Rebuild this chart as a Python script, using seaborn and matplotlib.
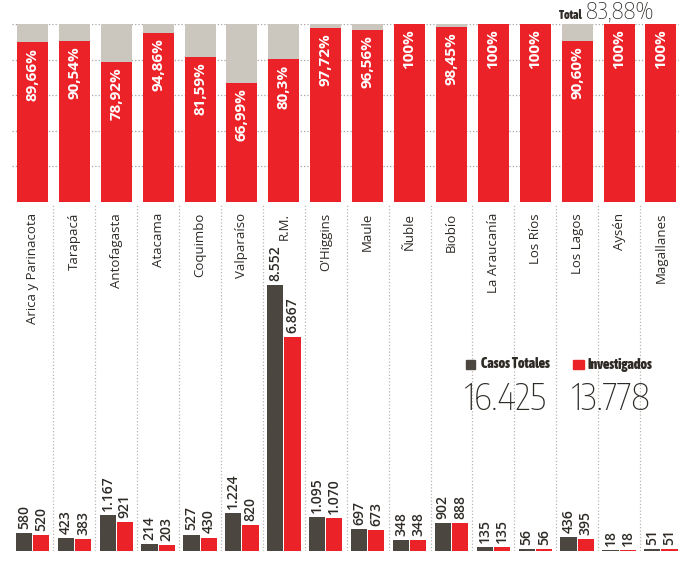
import pandas as pd
import numpy as np
import matplotlib.pyplot as plt
import seaborn as sns
from matplotlib import font_manager

# datos por región
regiones = ["Arica y Parinacota", "Tarapacá", "Antofagasta", "Atacama", "Coquimbo",
            "Valparaíso", "R.M.", "O'Higgins", "Maule", "Ñuble", "Biobío",
            "La Araucanía", "Los Ríos", "Los Lagos", "Aysén", "Magallanes"]
casos_totales = [580, 423, 1167, 214, 527, 1224, 8552, 1095, 697, 348, 902, 135, 56, 436, 18, 51]
investigados = [520, 383, 921, 203, 430, 820, 6867, 1070, 673, 348, 888, 135, 56, 395, 18, 51]
porcentaje = [89.66, 90.54, 78.92, 94.86, 81.59, 66.99, 80.3, 97.72, 96.56, 100,
              98.45, 100, 100, 90.60, 100, 100]
porcentaje_txt = ["89,66%", "90,54%", "78,92%", "94,86%", "81,59%", "66,99%", "80,3%",
                  "97,72%", "96,56%", "100%", "98,45%", "100%", "100%", "90,60%", "100%", "100%"]
total_pct_txt = "83,88%"

ROJO = "#ec2229"
GRIS = "#cbc7bf"
OSCURO = "#4b463f"
TEXTO = "#2e2a26"
PUNTOS = "#b9b6b0"

def miles(v):
    return f"{v:,}".replace(",", ".")

sns.set_style("white")
plt.rcParams["font.family"] = ["Open Sans", "DejaVu Sans"]

# buscar alguna fuente angosta instalada para las cifras grandes
angostas = [f for f in font_manager.fontManager.ttflist
            if f.stretch in ("condensed", "semi-condensed", "extra-condensed", "ultra-condensed")
            or "Narrow" in f.name or "Condensed" in f.name]
if angostas:
    fina = min(angostas, key=lambda f: f.weight if isinstance(f.weight, int) else 400)
    gruesa = max(angostas, key=lambda f: f.weight if isinstance(f.weight, int) else 400)
    fp_num = font_manager.FontProperties(fname=fina.fname, size=26)
    fp_leg = font_manager.FontProperties(fname=gruesa.fname, size=10)
    fp_tot = font_manager.FontProperties(fname=fina.fname, size=16.5)
    fp_tot_lbl = font_manager.FontProperties(fname=gruesa.fname, size=8.5)
else:
    fp_num = font_manager.FontProperties(family="Roboto", weight="light", size=18)
    fp_leg = font_manager.FontProperties(family="Roboto", weight="bold", size=8.5)
    fp_tot = font_manager.FontProperties(family="Roboto", weight="light", size=14)
    fp_tot_lbl = font_manager.FontProperties(family="Roboto", weight="bold", size=7.5)

W, H = 679, 563
fig = plt.figure(figsize=(W / 100, H / 100), dpi=100)

x0 = 11.5
paso = 41.9
ancho_ax = paso * 16

# panel superior: porcentaje investigado
ax1 = fig.add_axes([x0 / W, 1 - 202 / H, ancho_ax / W, 178 / H])
df_pct = pd.DataFrame({"Region": regiones, "Pct": porcentaje, "Fondo": [100] * len(regiones)})
sns.barplot(data=df_pct, x="Region", y="Fondo", color=GRIS, width=0.74, ax=ax1,
            saturation=1, linewidth=0)
sns.barplot(data=df_pct, x="Region", y="Pct", color=ROJO, width=0.74, ax=ax1,
            saturation=1, linewidth=0)
ax1.set_xlim(-0.5, 15.5)
ax1.set_ylim(0, 100)
for yy in [0, 20, 40, 60, 80, 100]:
    ax1.axhline(yy, color="#a9a59e", ls=":", lw=0.9, zorder=0)
for i, (p, t) in enumerate(zip(porcentaje, porcentaje_txt)):
    ax1.text(i, p - 3, t, rotation=90, ha="center", va="top", color="white",
             fontsize=11, fontweight="bold")
ax1.axis("off")

# panel inferior: casos totales vs investigados
ax2 = fig.add_axes([x0 / W, 1 - 551 / H, ancho_ax / W, 346 / H])
df_casos = pd.DataFrame({
    "Region": regiones * 2,
    "Serie": ["Casos Totales"] * len(regiones) + ["Investigados"] * len(regiones),
    "Casos": casos_totales + investigados,
})
sns.barplot(data=df_casos, x="Region", y="Casos", hue="Serie", palette=[OSCURO, ROJO],
            width=0.82, gap=0.06, saturation=1, linewidth=0, legend=False, ax=ax2)
ax2.set_xlim(-0.5, 15.5)
ax2.set_ylim(0, 11125)
for cont, vals in zip(ax2.containers, [casos_totales, investigados]):
    ax2.bar_label(cont, labels=[miles(v) for v in vals], rotation=90, padding=3,
                  fontsize=10, fontweight="semibold", color=TEXTO)
for i in range(len(regiones) - 1):
    ax2.axvline(i + 0.5, color=PUNTOS, ls=":", lw=0.9, zorder=0)
for i, r in enumerate(regiones):
    ax2.text(i, 0.977, r, rotation=90, ha="center", va="top", fontsize=9.5,
             color=TEXTO, transform=ax2.get_xaxis_transform())
ax2.axis("off")

# leyenda con totales
fig.patches.append(plt.Rectangle((466 / W, 1 - 369 / H), 9 / W, 9 / H, color=OSCURO,
                                 transform=fig.transFigure))
fig.patches.append(plt.Rectangle((573 / W, 1 - 369 / H), 11 / W, 9 / H, color=ROJO,
                                 transform=fig.transFigure))
fig.text(481 / W, 1 - 364.5 / H, "Casos Totales", fontproperties=fp_leg,
         color=TEXTO, va="center")
fig.text(588 / W, 1 - 364.5 / H, "Investigados", fontproperties=fp_leg,
         color=TEXTO, va="center")
fig.text(465 / W, 1 - 410 / H, miles(sum(casos_totales)), fontproperties=fp_num,
         color=TEXTO, va="baseline")
fig.text(572 / W, 1 - 410 / H, miles(sum(investigados)), fontproperties=fp_num,
         color=TEXTO, va="baseline")

# total general arriba a la derecha
fig.text(582 / W, 1 - 19 / H, "Total", fontproperties=fp_tot_lbl,
         color=TEXTO, ha="right", va="baseline")
fig.text(586 / W, 1 - 19 / H, total_pct_txt, fontproperties=fp_tot,
         color=TEXTO, va="baseline")

fig.savefig("out.png", dpi=100, facecolor="white")
